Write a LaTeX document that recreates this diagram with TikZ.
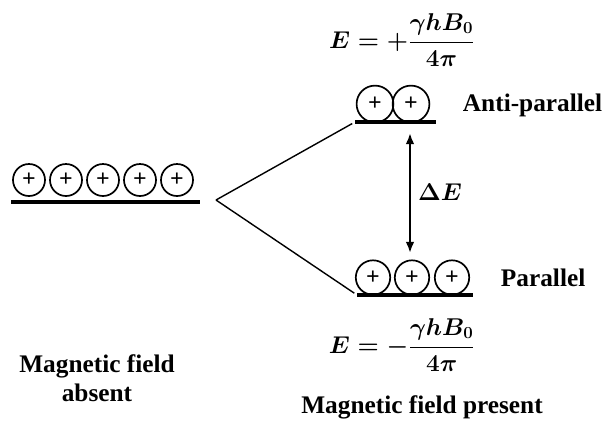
\documentclass[tikz,border=0pt]{standalone}
\usepackage{amsmath}
\usepackage{fontspec}
\setmainfont{Liberation Serif}
\usetikzlibrary{arrows.meta, positioning}

\begin{document}
\begin{tikzpicture}[
  x=0.025cm, y=-0.025cm,
  font=\bfseries\fontsize{18}{21}\selectfont,
  spin/.style={circle, draw, line width=1.2pt, inner sep=0pt, minimum size=#1, font=\bfseries\fontsize{17}{17}\selectfont},
  spin/.default=0.8cm,
  level/.style={line width=2.2pt},
  split/.style={line width=1pt, shorten >=0.08cm},
  gap/.style={{Latex[length=0.28cm, width=0.22cm]}-{Latex[length=0.28cm, width=0.22cm]}, line width=2pt},
  lbl/.style={anchor=west},
  energy/.style={font=\boldmath\fontsize{18}{21}\selectfont}
]
\useasboundingbox (0,0) rectangle (605,424);

% no field: five spins on one level
\foreach \i in {1,...,5}
  \node[spin] (a\i) at (29+37*\i-37,180) {+};
\coordinate (absL) at (11,202);
\coordinate (absR) at (200,202);
\draw[level] (absL) -- (absR);

% field on: two levels
\coordinate (upL) at (355,122);
\coordinate (upR) at (436,122);
\coordinate (loL) at (357,295);
\coordinate (loR) at (473,295);
\node[spin=0.92cm] (u1) at (375,104) {+};
\node[spin=0.92cm] (u2) at (411,104) {+};
\foreach \i/\x in {1/373,2/412,3/452}
  \node[spin=0.86cm] (p\i) at (\x,277.5) {+};
\draw[level] (upL) -- (upR);
\draw[level] (loL) -- (loR);

\coordinate (fork) at (216,200);
\draw[split] (fork) -- (upL);
\draw[split] (fork) -- (loL);

\coordinate (gapT) at (410,133);
\coordinate (gapB) at (410,253);
\draw[gap] (gapT) -- (gapB);
\node[energy] (dE) at (440,192) {$\Delta E$};

\node[energy] (Eup) at (402,40) {$E=+\dfrac{\gamma hB_0}{4\pi}$};
\node[energy] (Elo) at (402,345) {$E=-\dfrac{\gamma hB_0}{4\pi}$};
\node[lbl] (anti) at (458,105) {Anti-parallel};
\node[lbl] (para) at (496,278) {Parallel};
\node[align=center] (absent) at (97,378) {Magnetic field\\absent};
\node (present) at (422,407) {Magnetic field present};
\end{tikzpicture}
\end{document}
